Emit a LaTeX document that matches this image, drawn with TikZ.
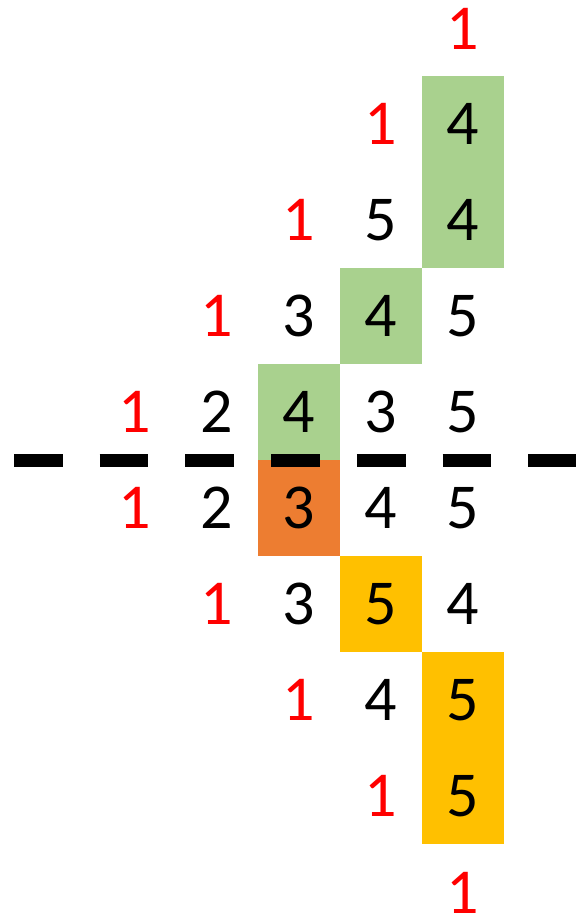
\documentclass[tikz,border=0pt]{standalone}
\usepackage{fontspec}
\setmainfont{Carlito}
\definecolor{cgreen}{HTML}{A9D18E}
\definecolor{corange}{HTML}{ED7D31}
\definecolor{cyellow}{HTML}{FFC000}
\definecolor{cred}{HTML}{FF0000}
\begin{document}
\begin{tikzpicture}[x=1pt,y=-1pt,
  cell/.style={minimum width=82pt, minimum height=96pt, inner sep=0pt,
    font=\fontsize{64}{70}\selectfont, text=black},
  one/.style={cell, minimum width=0pt, minimum height=0pt, text=cred},
  gcell/.style={cell, fill=cgreen},
  ocell/.style={cell, fill=corange},
  ycell/.style={cell, fill=cyellow},
  cut/.style={line width=13pt, dash pattern=on 48.7pt off 37pt, black}]
\useasboundingbox (0,0) rectangle (577,923);
% row 0
\node[one] (r0c5) at (463,29) {1};
% row 1
\node[one] (r1c4) at (381,124) {1};
\node[gcell] (r1c5) at (463,124) {4};
% row 2
\node[one] (r2c3) at (299,220) {1};
\node[cell] (r2c4) at (381,220) {5};
\node[gcell] (r2c5) at (463,220) {4};
% row 3
\node[one] (r3c2) at (217,316) {1};
\node[cell] (r3c3) at (299,316) {3};
\node[gcell] (r3c4) at (381,316) {4};
\node[cell] (r3c5) at (463,316) {5};
% row 4
\node[one] (r4c1) at (135,412) {1};
\node[cell] (r4c2) at (217,412) {2};
\node[gcell] (r4c3) at (299,412) {4};
\node[cell] (r4c4) at (381,412) {3};
\node[cell] (r4c5) at (463,412) {5};
% row 5
\node[one] (r5c1) at (135,508) {1};
\node[cell] (r5c2) at (217,508) {2};
\node[ocell] (r5c3) at (299,508) {3};
\node[cell] (r5c4) at (381,508) {4};
\node[cell] (r5c5) at (463,508) {5};
% row 6
\node[one] (r6c2) at (217,604) {1};
\node[cell] (r6c3) at (299,604) {3};
\node[ycell] (r6c4) at (381,604) {5};
\node[cell] (r6c5) at (463,604) {4};
% row 7
\node[one] (r7c3) at (299,700) {1};
\node[cell] (r7c4) at (381,700) {4};
\node[ycell] (r7c5) at (463,700) {5};
% row 8
\node[one] (r8c4) at (381,796) {1};
\node[ycell] (r8c5) at (463,796) {5};
% row 9
\node[one] (r9c5) at (463,893) {1};
% dashed divider
\coordinate (cutL) at (14,460.5);
\coordinate (cutR) at (576,460.5);
\draw[cut] (cutL) -- (cutR);
\end{tikzpicture}
\end{document}
